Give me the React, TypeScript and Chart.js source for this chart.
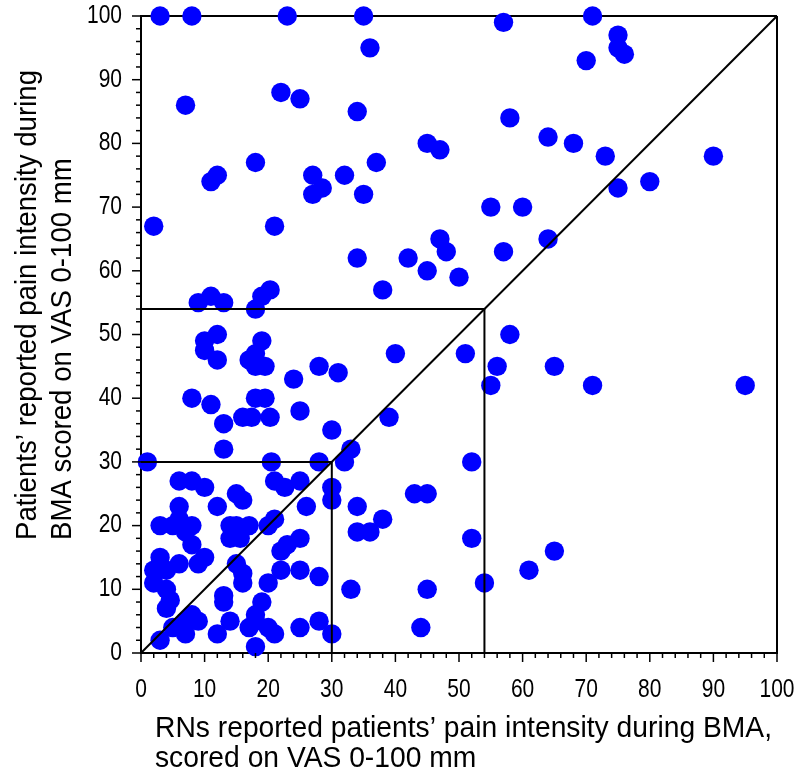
import React, { useEffect, useRef } from 'react';
import { Chart, registerables } from 'chart.js';

Chart.register(...registerables);

// RNs reported score (x) and patients' reported score (y), VAS 0-100 mm
const rnScores = [
  3, 8, 23, 35, 57, 71, 75, 75, 76, 70, 36, 22, 25, 7, 34, 58, 64, 68, 45, 47,
  73, 90, 18, 37, 12, 11, 27, 28.5, 27, 32, 35, 80, 75, 55, 60, 2, 21, 47, 48, 34,
  42, 57, 64, 45, 50, 38, 20.3, 19, 18, 9, 11, 13,
  12, 10, 10, 12, 19, 18, 17, 18, 19.5, 28, 31, 24, 8, 11, 18, 19.5, 13, 16,
  17.4, 20.3, 25, 30, 13, 58, 40, 51, 56, 65, 55, 71, 95, 39, 33,
  32, 52, 43, 45, 34, 38, 34, 36, 52, 54, 61, 65, 33, 45, 44,
  1, 20.5, 21, 22.6, 25, 28, 30, 30, 6, 8, 10, 15, 16, 12, 6, 6, 3, 5, 8, 8,
  7, 14, 15, 17, 14, 15.6, 21, 20, 26, 25, 23, 22, 3, 2, 2, 4, 6, 4, 4.6, 4,
  9, 10, 15, 16, 16, 13, 13, 19, 20, 22, 25, 28, 18, 18, 14, 12, 9, 8, 7, 5,
  3, 7, 17, 20, 21, 18, 25, 28, 30,
];
const patientScores = [
  100, 100, 100, 100, 99, 100, 97, 95, 94, 93, 95, 88, 87, 86, 85, 84, 81, 80, 80, 79,
  78, 78, 77, 77, 75, 74, 75, 73, 72, 75, 72, 74, 73, 70, 70, 67, 67, 65, 63, 62,
  62, 63, 65, 60, 59, 57, 57, 56, 54, 55, 56, 55,
  50, 49, 47.5, 46, 49, 47, 46, 45, 45, 45, 44, 43, 40, 39, 40, 40, 36, 37,
  37, 37, 38, 35, 32, 50, 47, 47, 45, 45, 42, 42, 42, 37, 32,
  30, 30, 25, 25, 23, 21, 19, 19, 18, 11, 13, 16, 10, 10, 4,
  30, 30, 27, 26, 27, 30, 26, 24, 27, 27, 26, 25, 24, 23, 23, 21, 20, 20, 20, 17,
  19, 20, 20, 20, 18, 18, 21, 20, 23, 18, 17, 16, 15, 13, 11, 13, 14, 10, 8.3, 7,
  14, 15, 14, 12.5, 11, 9, 8, 8, 11, 13, 13, 12, 6, 5, 5, 3, 5, 6, 5, 4,
  2, 3, 4, 4, 3, 1, 4, 5, 3,
];
const axisTicks = [0, 10, 20, 30, 40, 50, 60, 70, 80, 90, 100];
const thresholds = [30, 54];
const xTitleLines = ['RNs reported patients\u2019 pain intensity during BMA,', 'scored on VAS 0-100 mm'];
const yTitleLines = ['Patients\u2019 reported pain intensity during', 'BMA scored on VAS 0-100 mm'];

const FONT = '"Liberation Sans", Arial, sans-serif';

function condensedText(ctx: any, text: string, x: number, y: number, sx: number) {
  ctx.save();
  ctx.translate(x, y);
  ctx.scale(sx, 1);
  ctx.fillText(text, 0, 0);
  ctx.restore();
}

const decorPlugin = {
  id: 'decor',
  afterDraw(chart: any) {
    const ctx = chart.ctx;
    const xs = chart.scales.x;
    const ys = chart.scales.y;
    const area = chart.chartArea;
    ctx.save();
    ctx.strokeStyle = '#000';
    ctx.lineWidth = 1.5;
    for (let v = 0; v <= 100; v += 2) {
      const major = axisTicks.includes(v);
      const len = major ? 9 : 5;
      const px = xs.getPixelForValue(v);
      ctx.beginPath();
      ctx.moveTo(px, area.bottom);
      ctx.lineTo(px, area.bottom + len);
      ctx.stroke();
      const py = ys.getPixelForValue(v);
      ctx.beginPath();
      ctx.moveTo(area.left, py);
      ctx.lineTo(area.left - len, py);
      ctx.stroke();
    }
    ctx.fillStyle = '#000';
    // tick labels
    ctx.font = '25px ' + FONT;
    ctx.textBaseline = 'middle';
    ctx.textAlign = 'right';
    for (const v of axisTicks) {
      condensedText(ctx, String(v), area.left - 19, ys.getPixelForValue(v), 0.84);
    }
    ctx.textAlign = 'center';
    for (const v of axisTicks) {
      condensedText(ctx, String(v), xs.getPixelForValue(v), area.bottom + 37, 0.84);
    }
    // axis titles
    ctx.font = '30px ' + FONT;
    ctx.textAlign = 'left';
    ctx.textBaseline = 'alphabetic';
    const sxX = 617 / ctx.measureText(xTitleLines[0]).width;
    condensedText(ctx, xTitleLines[0], area.left + 14, area.bottom + 84, sxX);
    condensedText(ctx, xTitleLines[1], area.left + 14, area.bottom + 114, sxX);
    const sxY = 470 / ctx.measureText(yTitleLines[0]).width;
    ctx.translate(0, 540);
    ctx.rotate(-Math.PI / 2);
    condensedText(ctx, yTitleLines[0], 0, 36, sxY);
    condensedText(ctx, yTitleLines[1], 0, 71, sxY);
    ctx.restore();
  },
};

const noPad = (s: any) => {
  s.paddingTop = 0;
  s.paddingBottom = 0;
  s.paddingLeft = 0;
  s.paddingRight = 0;
};

export default function App() {
  const ref = useRef<HTMLCanvasElement | null>(null);
  useEffect(() => {
    if (!ref.current) return;
    const points = rnScores.map((x, i) => ({ x, y: patientScores[i] }));
    const lineSets = thresholds.map((t) => ({
      type: 'line' as const,
      data: [{ x: 0, y: t }, { x: t, y: t }, { x: t, y: 0 }],
      borderColor: '#000',
      borderWidth: 2,
      pointRadius: 0,
      fill: false,
      order: 0,
      clip: false,
    }));
    const chart = new Chart(ref.current, {
      type: 'scatter',
      data: {
        datasets: [
          {
            type: 'line' as const,
            data: [{ x: 0, y: 0 }, { x: 100, y: 100 }],
            borderColor: '#000',
            borderWidth: 2,
            pointRadius: 0,
            fill: false,
            order: 0,
          } as any,
          ...(lineSets as any[]),
          {
            data: points,
            backgroundColor: '#0000ff',
            borderWidth: 0,
            pointRadius: 9.7,
            pointHoverRadius: 9.7,
            order: 1,
            clip: false,
          },
        ],
      },
      options: {
        animation: false,
        responsive: false,
        events: [],
        layout: { padding: { top: 16, right: 24, left: 0, bottom: 0 } },
        plugins: { legend: { display: false }, tooltip: { enabled: false } },
        scales: {
          x: {
            type: 'linear',
            min: 0,
            max: 100,
            afterFit: (s: any) => { s.height = 120; noPad(s); },
            afterBuildTicks: (s: any) => { s.ticks = axisTicks.map((v) => ({ value: v })); },
            ticks: { display: false },
            grid: {
              drawOnChartArea: true,
              color: (c: any) => (c.tick && c.tick.value === 100 ? '#000' : 'rgba(0,0,0,0)'),
              lineWidth: 2,
              drawTicks: false,
            },
            border: { display: true, color: '#000', width: 2 },
          },
          y: {
            type: 'linear',
            min: 0,
            max: 100,
            afterFit: (s: any) => { s.width = 141; noPad(s); },
            afterBuildTicks: (s: any) => { s.ticks = axisTicks.map((v) => ({ value: v })); },
            ticks: { display: false },
            grid: {
              drawOnChartArea: true,
              color: (c: any) => (c.tick && c.tick.value === 100 ? '#000' : 'rgba(0,0,0,0)'),
              lineWidth: 2,
              drawTicks: false,
            },
            border: { display: true, color: '#000', width: 2 },
          },
        },
      },
      plugins: [decorPlugin],
    });
    return () => chart.destroy();
  }, []);
  return (
    <div style={{ position: 'fixed', left: 0, top: 0, width: 801, height: 773, background: '#fff' }}>
      <canvas ref={ref} width={801} height={773} style={{ display: 'block' }} />
    </div>
  );
}
